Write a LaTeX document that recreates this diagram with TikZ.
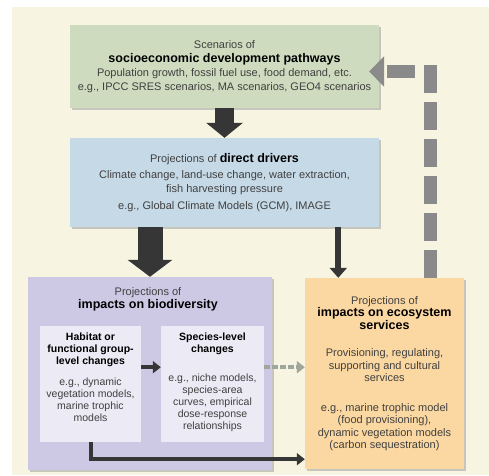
\documentclass[tikz,border=0pt]{standalone}
\usepackage{fontspec}
\setmainfont{Liberation Sans}
\usepackage{tikz}
\usetikzlibrary{arrows.meta, calc, shadows}

\definecolor{cream}{HTML}{F7F4E1}
\definecolor{scengreen}{HTML}{CEDBBF}
\definecolor{drvblue}{HTML}{C6D9E7}
\definecolor{biopurple}{HTML}{CDC9E4}
\definecolor{innerlav}{HTML}{ECEAF5}
\definecolor{essorange}{HTML}{FBD8A2}
\definecolor{arrdark}{HTML}{363636}
\definecolor{fbgray}{HTML}{8A8A8A}
\definecolor{dashgray}{HTML}{9FA69B}

% заголовки в блоках
\newcommand{\hd}[1]{\textcolor{black}{\fontsize{12.5}{14}\selectfont\bfseries #1}}
\newcommand{\sub}[1]{\textcolor{black}{\bfseries #1}}

\begin{document}
\begin{tikzpicture}[x=1pt, y=-1pt,
	boxtext/.style={align=center, inner sep=2pt, text=black!75,
		font=\fontsize{11}{13.5}\selectfont},
	box/.style={boxtext,
		drop shadow={shadow xshift=1.5pt, shadow yshift=-2pt, fill=black!40, opacity=.5}},
	innerbox/.style={fill=innerlav, inner xsep=2pt, inner ysep=7pt, text=black!75,
		font=\fontsize{10.5}{12}\selectfont},
	bigarrow/.style={draw=arrdark, line width=#1},
	thinarrow/.style={draw=arrdark, line width=4pt, -{Triangle[width=12pt,length=8pt]}},
	feedback/.style={draw=fbgray, line width=13pt, dash pattern=on 28pt off 9pt,
		-{Triangle[width=30pt,length=15pt]}}
]
	% поле
	\useasboundingbox (0,0) rectangle (489,475);
	\fill[cream] (12,7) rectangle (489,475);

	% сценарии
	\node[box, fill=scengreen, minimum width=309pt, minimum height=83pt] (scen) at (224.5,66.5)
		{Scenarios of\\ \hd{socioeconomic development pathways}\\[1pt]
		Population growth, fossil fuel use, food demand, etc.\\
		e.g., IPCC SRES scenarios, MA scenarios, GEO4 scenarios};

	% прямые факторы
	\node[box, fill=drvblue, minimum width=309pt, minimum height=89pt] (drv) at (224.5,182.5)
		{Projections of \hd{direct drivers}\\[3pt]
		Climate change, land-use change, water extraction,\\
		fish harvesting pressure\\[4pt]
		e.g., Global Climate Models (GCM), IMAGE};

	% биоразнообразие
	\node[box, fill=biopurple, minimum width=244pt, minimum height=193pt] (bio) at (150,373.5) {};
	\node[boxtext, anchor=north] (biotitle) at (148,285)
		{Projections of\\ \hd{impacts on biodiversity}};

	\node[innerbox, anchor=north] (hab) at (90.5,326)
		{\parbox[t][102pt][t]{97pt}{\centering
		\sub{Habitat or}\\ \sub{functional group-}\\ \sub{level changes}\\[9pt]
		e.g., dynamic\\ vegetation models,\\ marine trophic\\ models}};
	\node[innerbox, anchor=north] (spc) at (212.5,326)
		{\parbox[t][102pt][t]{99pt}{\centering
		\sub{Species-level}\\ \sub{changes}\\[17pt]
		e.g., niche models,\\ species-area\\ curves, empirical\\ dose-response\\ relationships}};

	% экосистемные услуги
	\node[box, fill=essorange, minimum width=159pt, minimum height=191pt,
		font=\fontsize{11}{12.5}\selectfont] (ess) at (384.5,373.5)
		{Projections of\\ \hd{impacts on ecosystem}\\ \hd{services}\\[15pt]
		Provisioning, regulating,\\ supporting and cultural\\ services\\[17pt]
		e.g., marine trophic model\\ (food provisioning),\\
		dynamic vegetation models\\ (carbon sequestration)};

	\coordinate (essin) at ($(ess.north west)!.21!(ess.north east)$);
	\coordinate (essout) at ($(ess.north west)!.79!(ess.north east)$);

	% стрелки
	\draw[bigarrow=19pt, -{Triangle[width=36pt,length=15pt]}] (scen.south) -- (drv.north);
	\draw[bigarrow=25pt, -{Triangle[width=44pt,length=17pt]}] (drv.south -| bio.north) -- (bio.north);
	\draw[bigarrow=6pt, -{Triangle[width=17pt,length=10pt]}] (drv.south -| essin) -- (essin);

	\draw[thinarrow] ([yshift=17pt]hab.east) -- ([yshift=17pt]spc.west);
	\draw[draw=dashgray, line width=4pt, dash pattern=on 6pt off 2pt,
		-{Triangle[width=12pt,length=8pt]}] ([yshift=17pt]spc.east) -- ([yshift=17pt]spc.east -| ess.west);
	\draw[thinarrow] (hab.south) |- ([yshift=10pt]ess.south west);

	% обратная связь
	\draw[feedback, shorten >=-10pt] (essout) |- ([yshift=-5pt]scen.east);
\end{tikzpicture}
\end{document}
